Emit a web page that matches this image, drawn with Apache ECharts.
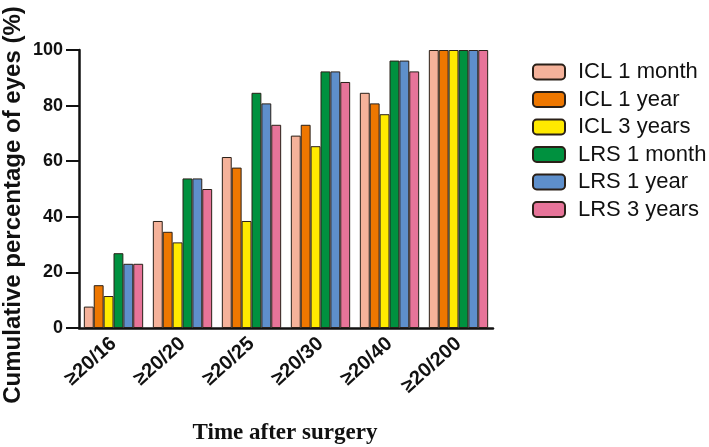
<!DOCTYPE html>
<html>
<head>
<meta charset="utf-8">
<script src="https://cdn.jsdelivr.net/npm/echarts@6/dist/echarts.min.js"></script>
<style>
  html, body { margin: 0; padding: 0; background: #fff; }
  #chart { width: 709px; height: 447px; }
</style>
</head>
<body>
<div id="chart"></div>
<script>
const categories = ['≥20/16', '≥20/20', '≥20/25', '≥20/30', '≥20/40', '≥20/200'];
const seriesNames = ['ICL 1 month', 'ICL 1 year', 'ICL 3 years', 'LRS 1 month', 'LRS 1 year', 'LRS 3 years'];
const icl1m = [7.7, 38.5, 61.5, 69.2, 84.6, 100];
const icl1y = [15.4, 34.6, 57.7, 73.1, 80.8, 100];
const icl3y = [11.5, 30.8, 38.5, 65.4, 76.9, 100];
const lrs1m = [26.9, 53.8, 84.6, 92.3, 96.2, 100];
const lrs1y = [23.1, 53.8, 80.8, 92.3, 96.2, 100];
const lrs3y = [23.1, 50.0, 73.1, 88.5, 92.3, 100];
const colors = ['#F5B29A', '#EE7700', '#FFEA00', '#00913F', '#5E8FCB', '#E77499'];

const allValues = [icl1m, icl1y, icl3y, lrs1m, lrs1y, lrs3y];
const font = 'Liberation Sans, Arial, sans-serif';

const chart = echarts.init(document.getElementById('chart'));
chart.setOption({
  animation: false,
  grid: { left: 79, top: 50, width: 414, bottom: 119, containLabel: false },
  legend: {
    orient: 'vertical',
    left: 527,
    top: 56,
    itemWidth: 32,
    itemHeight: 15,
    itemGap: 5.5,
    textStyle: { fontFamily: font, fontSize: 22, color: '#111', padding: [0, 0, 0, 8] },
    data: seriesNames
  },
  xAxis: {
    type: 'category',
    data: categories,
    axisLine: { lineStyle: { color: '#111', width: 2.5 } },
    axisTick: { alignWithLabel: true, length: 8, lineStyle: { width: 2.5, color: '#111' } },
    axisLabel: { rotate: 42, margin: 13, fontFamily: font, fontWeight: 'bold', fontSize: 20, color: '#111' }
  },
  yAxis: {
    type: 'value',
    min: 0,
    max: 100,
    interval: 20,
    axisLine: { show: true, lineStyle: { color: '#111', width: 2.5 } },
    axisTick: { show: true, length: 13, lineStyle: { width: 2, color: '#111' } },
    splitLine: { show: false },
    axisLabel: { margin: 16, fontFamily: font, fontWeight: 'bold', fontSize: 18, color: '#111' }
  },
  graphic: [
    {
      type: 'text',
      x: 1, y: 205,
      rotation: Math.PI / 2,
      style: {
        text: 'Cumulative percentage of eyes (%)',
        font: 'bold 24px ' + font,
        fill: '#111',
        textAlign: 'center',
        textVerticalAlign: 'top'
      }
    },
    {
      type: 'text',
      x: 285, y: 433,
      style: {
        text: 'Time after surgery',
        font: 'bold 23px Liberation Serif, Times New Roman, serif',
        fill: '#111',
        textAlign: 'center',
        textVerticalAlign: 'middle'
      }
    }
  ],
  series: seriesNames.map((name, i) => ({
    name: name,
    type: 'bar',
    data: allValues[i],
    barGap: '0%',
    barCategoryGap: '14%',
    itemStyle: { color: colors[i], borderColor: '#2a2018', borderWidth: 1 }
  }))
});
</script>
</body>
</html>
